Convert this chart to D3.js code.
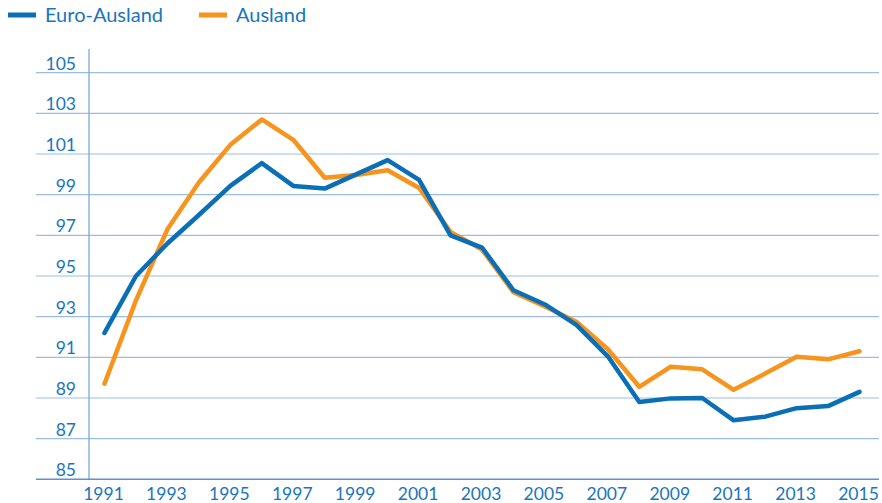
<!DOCTYPE html>
<html><head><meta charset="utf-8">
<script src="https://cdn.jsdelivr.net/npm/d3@7"></script>
<style>body{margin:0;background:#fff;}svg{display:block;font-family:Lato,"Noto Sans",sans-serif;}</style>
</head><body><svg id="c" width="882" height="503"></svg>
<script>
const years = d3.range(1991, 2016);
const euroAusland = [92.2,95.0,96.6,98.0,99.43,100.55,99.43,99.3,100.0,100.7,99.73,97.0,96.4,94.3,93.6,92.6,91.05,88.8,88.98,89.0,87.9,88.08,88.5,88.6,89.3];
const ausland = [89.7,93.8,97.3,99.6,101.45,102.7,101.7,99.83,99.97,100.2,99.33,97.17,96.3,94.2,93.5,92.75,91.4,89.55,90.54,90.41,89.4,90.2,91.03,90.9,91.3];
const yTicks = [85,87,89,91,93,95,97,99,101,103,105];
const xTicks = [1991,1993,1995,1997,1999,2001,2003,2005,2007,2009,2011,2013,2015];
const seriesNames = ["Euro-Ausland","Ausland"];
const colors = ["#0a6fb6","#f7941d"];
const txt = "#1a75bc";

const svg = d3.select("#c");
const x = d3.scaleLinear().domain([1991,2015]).range([104.5,859.5]);
const y = d3.scaleLinear().domain([85,105]).range([479.3,72.7]);

// gridlines
svg.append("g").selectAll("line").data(yTicks.slice(1)).join("line")
  .attr("x1",36).attr("x2",879).attr("y1",d=>y(d)).attr("y2",d=>y(d))
  .attr("stroke","#9dbde3").attr("stroke-width",1.2);
// y labels
svg.append("g").selectAll("text").data(yTicks).join("text")
  .attr("x",76).attr("y",d=>y(d)-3).attr("text-anchor","end")
  .attr("fill",txt).attr("font-size",17.5).text(d=>d);
// y axis line
svg.append("line").attr("x1",89).attr("x2",89).attr("y1",49).attr("y2",479.3)
  .attr("stroke","#7ea8d8").attr("stroke-width",1.3);
// x axis line
svg.append("line").attr("x1",36).attr("x2",879).attr("y1",y(85)).attr("y2",y(85))
  .attr("stroke","#5b93cf").attr("stroke-width",1.5);
// x labels
svg.append("g").selectAll("text").data(xTicks).join("text")
  .attr("x",d=>x(d)-1).attr("y",500).attr("text-anchor","middle")
  .attr("fill",txt).attr("font-size",17.5).text(d=>d);

const line = d3.line().x((d,i)=>x(years[i])).y(d=>y(d));
[ausland, euroAusland].forEach((s,k)=>{
  svg.append("path").datum(s).attr("d",line).attr("fill","none")
    .attr("stroke",k===0?colors[1]:colors[0]).attr("stroke-width",4.5)
    .attr("stroke-linejoin","round").attr("stroke-linecap","round");
});

// legend
const leg = [{n:seriesNames[0],c:colors[0],x:8},{n:seriesNames[1],c:colors[1],x:199}];
leg.forEach(l=>{
  svg.append("line").attr("x1",l.x).attr("x2",l.x+28).attr("y1",15).attr("y2",15)
    .attr("stroke",l.c).attr("stroke-width",5);
  svg.append("text").attr("x",l.x+37).attr("y",22).attr("fill",txt)
    .attr("font-size",20).text(l.n);
});
</script></body></html>
